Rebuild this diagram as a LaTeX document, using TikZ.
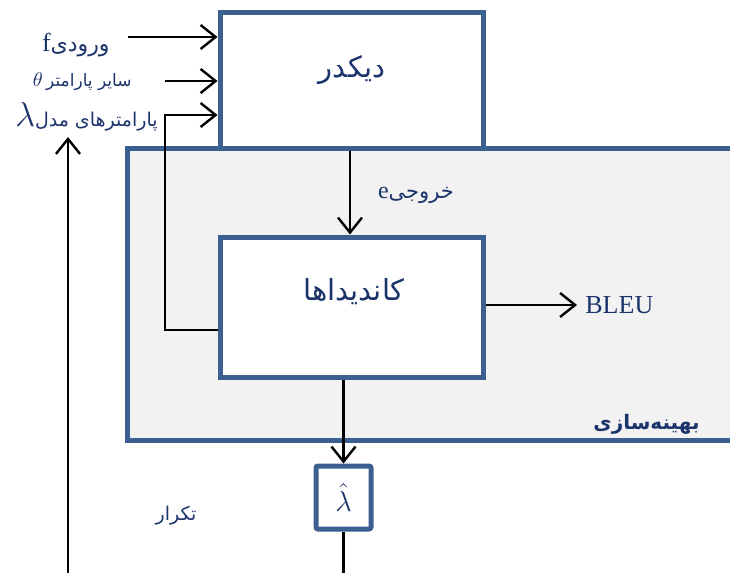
\documentclass[tikz,border=0pt]{standalone}
\usepackage{fontspec}
\setmainfont{Liberation Serif}
\newfontfamily\fa[Script=Arabic]{DejaVu Sans}
\TeXXeTstate=1
\usetikzlibrary{arrows.meta}
\definecolor{boxblue}{RGB}{59,95,145}
\definecolor{inkblue}{RGB}{28,52,108}
\definecolor{panelgray}{RGB}{242,242,242}
\begin{document}
\begin{tikzpicture}[x=0.5pt,y=-0.5pt,
  blk/.style={draw=boxblue,line width=2.5pt,fill=white,inner sep=0pt,text=inkblue},
  flow/.style={draw=black,line width=1.2pt,-{Straight Barb[length=7.5pt,width=12pt,line width=1.2pt]}},
  wire/.style={draw=black,line width=1.2pt},
  lbl/.style={text=inkblue,inner sep=0pt}]
\clip (0,0) rectangle (730,573);
% optimisation panel (runs past the right edge)
\draw[draw=boxblue,line width=2.5pt,fill=panelgray] (127,148) rectangle (790,440);
\node[lbl,anchor=east] (optlbl) at (700,424) {\fa\bfseries\fontsize{10}{12}\selectfont\beginR بهینه‌سازی\endR};
% boxes
\node[blk,minimum width=131.5pt,minimum height=68pt] (dec) at (351.5,80) {};
\node[blk,minimum width=131.5pt,minimum height=70pt] (cand) at (351.5,307) {};
\node[blk,minimum width=27.5pt,minimum height=31.5pt,rounded corners=1pt] (lhat) at (343.5,497.5) {\fontsize{15}{17}\selectfont$\hat{\lambda}$};
\node[lbl] (dectxt) at (352,70) {\fa\fontsize{14.5}{17}\selectfont\beginR دیکدر\endR};
\node[lbl] (candtxt) at (354,292) {\fa\fontsize{14.5}{17}\selectfont\beginR کاندیداها\endR};
% inputs on the left
\node[lbl,anchor=east] (inf) at (110,45) {\fontsize{13}{15}\selectfont f\fa\fontsize{11}{13}\selectfont\beginR ورودی\endR};
\node[lbl,anchor=east] (inth) at (132,82) {\fontsize{10}{12}\selectfont$\theta$\,\fa\fontsize{8.5}{10}\selectfont\beginR سایر پارامتر\endR};
\node[lbl,anchor=east] (inlam) at (158,117) {\fontsize{17}{19}\selectfont$\lambda$\fa\fontsize{9.5}{12}\selectfont\beginR پارامترهای مدل\endR};
\node[lbl] (outtxt) at (416,195) {\fontsize{12}{14}\selectfont e\fa\fontsize{10.5}{12}\selectfont\beginR خروجی\endR};
\node[lbl,anchor=west,inner sep=4pt] (bleu) at (577,305) {\fontsize{13}{15}\selectfont BLEU};
\node[lbl] (itertxt) at (176,516) {\fa\fontsize{9.5}{12}\selectfont\beginR تکرار\endR};
% connectors
\coordinate (fin) at (128,37);
\coordinate (thin) at (165,81);
\coordinate (fbx) at (165,115);
\coordinate (lowL) at (68,590);
\coordinate (lamtip) at (68,137);
\coordinate (lowR) at (343.5,590);
\draw[flow] (fin) -- (dec.west |- fin);
\draw[flow] (thin) -- (dec.west |- thin);
\draw[flow] (cand.west |- 0,330) -- (fbx |- 0,330) -- (fbx) -- (dec.west |- fbx);
\draw[flow] (dec.south -| 350,0) -- (cand.north -| 350,0);
\draw[flow] (cand.east |- bleu) -- (bleu.west);
\draw[flow] (cand.south -| lhat.north) -- (lhat.north);
\draw[wire] (lhat.south) -- (lowR);
\draw[flow] (lowL) -- (lamtip);
\end{tikzpicture}
\end{document}
